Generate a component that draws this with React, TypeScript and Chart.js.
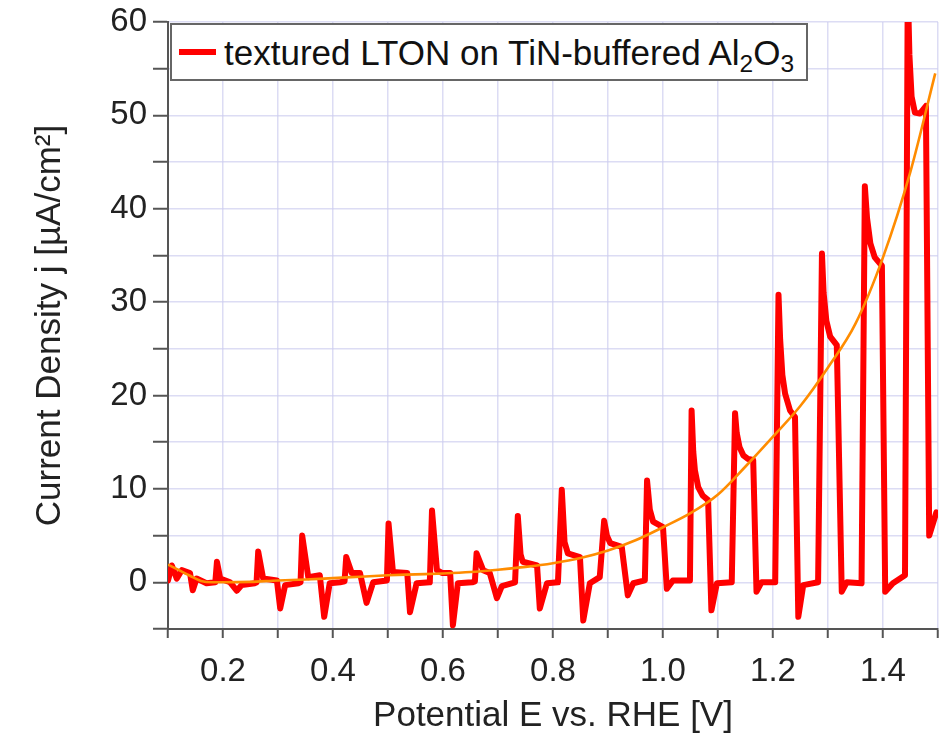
import React, { useEffect, useRef } from 'react';
import { Chart, registerables } from 'chart.js';

Chart.register(...registerables);

// Chopped-light LSV (red trace): potential [V vs RHE] and current density [µA/cm²]
const potential = [
  0.100, 0.107, 0.116, 0.125, 0.140, 0.145, 0.152, 0.170, 0.186, 0.189, 0.195, 0.213, 0.225, 0.234, 0.258,
  0.261, 0.264, 0.273, 0.298, 0.304, 0.313, 0.337, 0.341, 0.344, 0.355, 0.376, 0.384, 0.394, 0.413, 0.421,
  0.424, 0.434, 0.449, 0.461, 0.473, 0.498, 0.501, 0.509, 0.535, 0.540, 0.552, 0.576, 0.580, 0.589, 0.598,
  0.613, 0.618, 0.627, 0.653, 0.658, 0.661, 0.673, 0.685, 0.698, 0.707, 0.731, 0.736, 0.741, 0.745, 0.771,
  0.776, 0.789, 0.809, 0.816, 0.821, 0.827, 0.849, 0.855, 0.867, 0.885, 0.893, 0.898, 0.904, 0.925, 0.936,
  0.946, 0.967, 0.971, 0.976, 0.982, 1.000, 1.007, 1.018, 1.049, 1.052, 1.055, 1.058, 1.064, 1.072, 1.082,
  1.088, 1.098, 1.125, 1.131, 1.134, 1.139, 1.146, 1.155, 1.164, 1.170, 1.179, 1.204, 1.210, 1.213, 1.217,
  1.222, 1.231, 1.240, 1.246, 1.255, 1.282, 1.289, 1.292, 1.297, 1.304, 1.316, 1.325, 1.334, 1.361, 1.367,
  1.371, 1.377, 1.385, 1.398, 1.404, 1.418, 1.440, 1.445, 1.448, 1.452, 1.458, 1.467, 1.478, 1.484, 1.497,
];
const current = [
  0.2, 1.8, 0.4, 1.3, 1.0, -0.85, 0.4, -0.1, 0.0, 2.2, 0.4, 0.0, -0.9, -0.3, -0.1,
  0.0, 3.3, 0.4, 0.2, -2.8, -0.3, -0.1, 0.0, 5.0, 0.55, 0.75, -3.7, -0.1, 0.0, 0.1,
  2.7, 1.0, 1.0, -2.2, 0.0, 0.2, 6.3, 1.1, 1.0, -3.2, -0.1, 0.0, 7.7, 1.3, 1.0,
  1.0, -4.6, -0.1, 0.0, 0.1, 3.1, 1.3, 1.0, -1.7, -0.4, 0.0, 7.1, 3.0, 2.2, 1.8,
  -2.8, -0.1, 0.0, 9.9, 4.3, 3.1, 2.7, -4.1, -0.1, 0.55, 6.6, 5.0, 4.2, 3.8, -1.4,
  -0.1, 0.2, 10.9, 7.8, 6.5, 5.9, -0.7, 0.2, 0.2, 18.4, 14.0, 12.0, 10.2, 9.3, 8.8,
  -3.0, -0.1, 0.0, 18.1, 16.0, 14.5, 13.6, 13.2, 13.1, -1.0, 0.0, 0.0, 30.8, 26.0, 22.2,
  20.2, 18.4, 17.7, -3.7, -0.3, 0.0, 35.2, 31.0, 28.0, 26.3, 25.4, -1.0, 0.0, -0.1, 42.4,
  39.0, 36.3, 34.8, 33.9, -1.0, -0.1, 0.75, 64.0, 56.5, 52.0, 50.3, 50.2, 51.0, 5.0, 7.5,
];

// Smooth (orange) curve
const fitPotential = [
  0.10, 0.12, 0.14, 0.16, 0.18, 0.20, 0.25, 0.30, 0.35, 0.40, 0.45, 0.50, 0.55, 0.60, 0.65, 0.70,
  0.75, 0.80, 0.85, 0.90, 0.95, 1.00, 1.05, 1.10, 1.15, 1.20, 1.25, 1.30, 1.35, 1.40, 1.45, 1.495,
];
const fitCurrent = [
  1.9, 1.3, 0.7, 0.15, 0.0, 0.0, 0.05, 0.2, 0.3, 0.45, 0.6, 0.75, 0.85, 0.95, 1.1, 1.35,
  1.65, 2.05, 2.6, 3.4, 4.5, 5.9, 7.4, 9.4, 12.4, 15.6, 18.9, 23.0, 27.7, 34.8, 44.0, 54.5,
];

const xLabelValues = [0.2, 0.4, 0.6, 0.8, 1.0, 1.2, 1.4];
const yLabelValues = [0, 10, 20, 30, 40, 50, 60];

const xTitle = 'Potential E vs. RHE [V]';
const yTitle = 'Current Density j [µA/cm²]';
const legendLabel = 'textured LTON on TiN-buffered Al₂O₃';

const FONT = "'Liberation Sans', Arial, Helvetica, sans-serif";

export default function App() {
  const ref = useRef<HTMLCanvasElement>(null);

  useEffect(() => {
    document.body.style.margin = '0';
    const canvas = ref.current;
    if (!canvas) return;
    const gridColor = 'rgba(205,205,240,0.7)';
    const axisColor = '#555';
    const chart = new Chart(canvas, {
      type: 'line',
      data: {
        datasets: [
          {
            label: 'fit',
            data: fitPotential.map((x, i) => ({ x, y: fitCurrent[i] })),
            borderColor: '#FF8C00',
            borderWidth: 2.6,
            pointRadius: 0,
            tension: 0.4,
            cubicInterpolationMode: 'monotone',
            order: 0,
            clip: 0,
          },
          {
            label: legendLabel,
            data: potential.map((x, i) => ({ x, y: current[i] })),
            borderColor: '#FF0000',
            borderWidth: 6,
            pointRadius: 0,
            tension: 0,
            borderJoinStyle: 'round',
            borderCapStyle: 'round',
            order: 1,
            clip: 0,
          },
        ],
      },
      options: {
        responsive: false,
        animation: false,
        devicePixelRatio: 1,
        layout: { padding: { top: 22, right: 4, left: 0, bottom: 0 } },
        plugins: { legend: { display: false }, tooltip: { enabled: false } },
        scales: {
          x: {
            type: 'linear',
            min: 0.1,
            max: 1.5,
            afterFit: (s: any) => {
              s.height = 111;
              s.paddingLeft = 0;
              s.paddingRight = 0;
            },
            ticks: {
              stepSize: 0.1,
              autoSkip: false,
              maxRotation: 0,
              padding: 14,
              color: '#222',
              font: { family: FONT, size: 33 },
              callback: (v: any) => {
                const n = Number(v);
                return xLabelValues.some((t) => Math.abs(t - n) < 1e-6) ? n.toFixed(1) : '';
              },
            },
            grid: { color: gridColor, lineWidth: 1.5, tickColor: axisColor, tickLength: 9, tickWidth: 2 },
            border: { color: axisColor, width: 2 },
            title: {
              display: true,
              text: xTitle,
              color: '#222',
              font: { family: FONT, size: 35 },
              padding: { top: 0, bottom: 3 },
            },
          },
          y: {
            type: 'linear',
            min: -5,
            max: 60,
            afterFit: (s: any) => {
              s.width = 168;
              s.paddingTop = 0;
              s.paddingBottom = 0;
            },
            ticks: {
              stepSize: 5,
              autoSkip: false,
              padding: 6,
              color: '#222',
              font: { family: FONT, size: 33 },
              callback: (v: any) => {
                const n = Number(v);
                return yLabelValues.includes(n) ? String(n) : '';
              },
            },
            grid: { color: gridColor, lineWidth: 1.5, tickColor: axisColor, tickLength: 15, tickWidth: 2 },
            border: { color: axisColor, width: 2 },
            title: {
              display: true,
              text: yTitle,
              color: '#222',
              font: { family: FONT, size: 35 },
              padding: { top: 29, bottom: 0 },
            },
          },
        },
      },
    } as any);
    return () => chart.destroy();
  }, []);

  return (
    <div style={{ position: 'relative', width: 942, height: 740 }}>
      <canvas ref={ref} width={942} height={740} style={{ display: 'block' }} />
      <div
        style={{
          position: 'absolute',
          left: 170,
          top: 23,
          width: 638,
          height: 58,
          boxSizing: 'border-box',
          border: '2px solid #666',
          background: '#fff',
          display: 'flex',
          alignItems: 'center',
          fontFamily: FONT,
          color: '#111',
          whiteSpace: 'nowrap',
        }}
      >
        <span style={{ display: 'inline-block', width: 37, height: 6, background: '#FF0000', marginLeft: 7 }} />
        <span style={{ marginLeft: 8, fontSize: 35, lineHeight: 1 }}>
          textured LTON on TiN-buffered Al<sub style={{ fontSize: '0.7em', verticalAlign: '-0.3em', lineHeight: 0 }}>2</sub>O
          <sub style={{ fontSize: '0.7em', verticalAlign: '-0.3em', lineHeight: 0 }}>3</sub>
        </span>
      </div>
    </div>
  );
}
